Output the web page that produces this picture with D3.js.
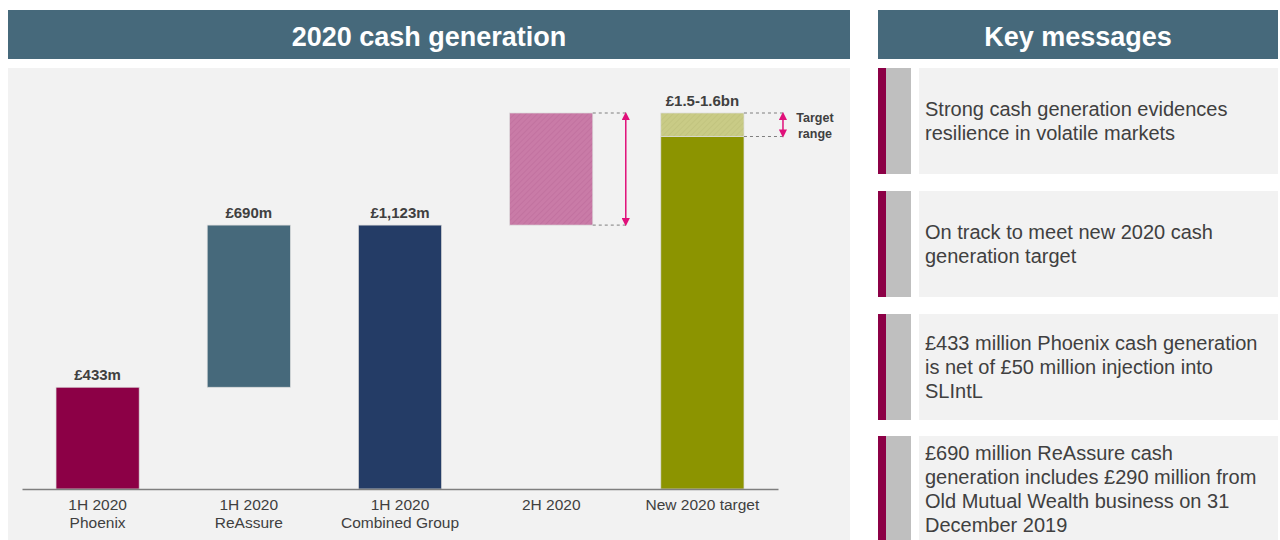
<!DOCTYPE html>
<html>
<head>
<meta charset="utf-8">
<script src="https://cdn.jsdelivr.net/npm/d3@7"></script>
<style>
  body { margin: 0; background: #fff; font-family: "Liberation Sans", Arial, sans-serif; }
</style>
</head>
<body>
<svg id="chart"></svg>
<script>
// chart data
const categories = [["1H 2020", "Phoenix"], ["1H 2020", "ReAssure"], ["1H 2020", "Combined Group"], ["2H 2020"], ["New 2020 target"]];
const barStart = [0, 433, 0, 1123, 0];
const barEnd = [433, 1123, 1123, 1600, 1500];
const valueLabels = ["£433m", "£690m", "£1,123m", "", "£1.5-1.6bn"];
const targetRange = [1500, 1600];
const messages = [
    ["Strong cash generation evidences", "resilience in volatile markets"],
    ["On track to meet new 2020 cash", "generation target"],
    ["£433 million Phoenix cash generation", "is net of £50 million injection into", "SLIntL"],
    ["£690 million ReAssure cash", "generation includes £290 million from", "Old Mutual Wealth business on 31", "December 2019"]
];

const W = 1280, H = 540;
const svg = d3.select("#chart").attr("width", W).attr("height", H);

const headFill = "#46697b";
const textCol = "#404040";
const magenta = "#e0107a";

// defs: hatch patterns
const defs = svg.append("defs");
function hatch(id, base, line) {
    const p = defs.append("pattern")
        .attr("id", id)
        .attr("patternUnits", "userSpaceOnUse")
        .attr("width", 4).attr("height", 4)
        .attr("patternTransform", "rotate(45)");
    p.append("rect").attr("width", 4).attr("height", 4).attr("fill", base);
    p.append("line").attr("x1", 0).attr("y1", 0).attr("x2", 0).attr("y2", 4)
        .attr("stroke", line).attr("stroke-width", 1.2);
}
hatch("pinkHatch", "#c97ba7", "#bd6c9b");
hatch("oliveHatch", "#c9cb86", "#bec07a");
defs.append("marker")
    .attr("id", "arrow")
    .attr("viewBox", "0 0 10 10")
    .attr("refX", 5).attr("refY", 5)
    .attr("markerWidth", 5.5).attr("markerHeight", 5.5)
    .attr("orient", "auto-start-reverse")
    .append("path").attr("d", "M0,0L10,5L0,10z").attr("fill", magenta);

// headers
const headers = [
    { x: 8, w: 842, text: "2020 cash generation" },
    { x: 878, w: 400, text: "Key messages" }
];
headers.forEach(h => {
    svg.append("rect").attr("x", h.x).attr("y", 10).attr("width", h.w).attr("height", 49).attr("fill", headFill);
    svg.append("text").attr("x", h.x + h.w / 2).attr("y", 37)
        .attr("text-anchor", "middle").attr("dominant-baseline", "central")
        .attr("fill", "#fff").attr("font-weight", "bold").attr("font-size", 27)
        .text(h.text);
});

// chart panel
svg.append("rect").attr("x", 8).attr("y", 68).attr("width", 842).attr("height", H - 68).attr("fill", "#f2f2f2");

const x = d3.scaleBand()
    .domain(d3.range(categories.length))
    .range([22, 778])
    .paddingInner(0.45)
    .paddingOuter(0.225);

const y = d3.scaleLinear()
    .domain([0, 1600])
    .range([489, 113]);

const fills = ["#8c0046", "#46697b", "#243c66", "url(#pinkHatch)", "#8c9400"];

const g = svg.append("g");

const bars = d3.range(categories.length);
g.selectAll("rect.bar")
    .data(bars)
    .join("rect")
    .attr("class", "bar")
    .attr("x", i => x(i))
    .attr("width", x.bandwidth())
    .attr("y", i => y(barEnd[i]))
    .attr("height", i => y(barStart[i]) - y(barEnd[i]))
    .attr("fill", i => fills[i])
    .attr("stroke", "#dcdcdc")
    .attr("stroke-width", 0.7);

// target range segment on last bar
const last = categories.length - 1;
g.append("rect")
    .attr("x", x(last))
    .attr("width", x.bandwidth())
    .attr("y", y(targetRange[1]))
    .attr("height", y(targetRange[0]) - y(targetRange[1]))
    .attr("fill", "url(#oliveHatch)")
    .attr("stroke", "#dcdcdc")
    .attr("stroke-width", 0.7);

// value labels (above the top of each bar, incl. target range)
const topOf = i => i === last ? Math.max(barEnd[i], targetRange[1]) : barEnd[i];
g.selectAll("text.val")
    .data(bars.filter(i => valueLabels[i]))
    .join("text")
    .attr("class", "val")
    .attr("x", i => x(i) + x.bandwidth() / 2)
    .attr("y", i => y(topOf(i)) - 13)
    .attr("text-anchor", "middle")
    .attr("dominant-baseline", "central")
    .attr("font-size", 15)
    .attr("font-weight", "bold")
    .attr("fill", textCol)
    .text(i => valueLabels[i]);

// dashed guide lines + arrows
function bracket(i, lo, hi, len) {
    const x0 = x(i) + x.bandwidth();
    [lo, hi].forEach(v => {
        g.append("line")
            .attr("x1", x0).attr("x2", x0 + len)
            .attr("y1", y(v)).attr("y2", y(v))
            .attr("stroke", "#7f7f7f").attr("stroke-width", 1)
            .attr("stroke-dasharray", "3,3");
    });
    g.append("line")
        .attr("x1", x0 + len - 1).attr("x2", x0 + len - 1)
        .attr("y1", y(hi) + 3).attr("y2", y(lo) - 3)
        .attr("stroke", magenta).attr("stroke-width", 1.5)
        .attr("marker-start", "url(#arrow)")
        .attr("marker-end", "url(#arrow)");
}
bracket(3, barStart[3], barEnd[3], 34);
bracket(last, targetRange[0], targetRange[1], 40);

g.append("text")
    .attr("text-anchor", "middle")
    .attr("font-size", 12.5).attr("font-weight", "bold").attr("fill", textCol)
    .selectAll("tspan")
    .data(["Target", "range"])
    .join("tspan")
    .attr("x", x(last) + x.bandwidth() + 71)
    .attr("y", (d, k) => y(targetRange[1]) + 9 + k * 16)
    .text(d => d);

// x axis
const axis = svg.append("g")
    .attr("transform", `translate(0,${y(0)})`)
    .call(d3.axisBottom(x).tickSize(0).tickSizeOuter(0).tickFormat(""));
axis.select(".domain").attr("stroke", "#7f7f7f").attr("stroke-width", 1.5);

axis.selectAll(".tick text").remove();
axis.selectAll(".tick")
    .append("text")
    .attr("fill", textCol)
    .attr("font-size", 15.5)
    .attr("font-family", "Liberation Sans, Arial, sans-serif")
    .attr("text-anchor", "middle")
    .selectAll("tspan")
    .data(i => categories[i])
    .join("tspan")
    .attr("x", 0)
    .attr("y", (d, k) => 21 + k * 18)
    .text(d => d);

// key messages
const cardTop = [68, 191, 314, 436];
const cardH = 106;
const lineH = 24;
messages.forEach((lines, j) => {
    const top = cardTop[j];
    const c = svg.append("g");
    c.append("rect").attr("x", 878).attr("y", top).attr("width", 8).attr("height", cardH).attr("fill", "#8c0046");
    c.append("rect").attr("x", 886).attr("y", top).attr("width", 25).attr("height", cardH).attr("fill", "#bfbfbf");
    c.append("rect").attr("x", 919).attr("y", top).attr("width", 359).attr("height", cardH).attr("fill", "#f2f2f2");
    const cy = top + cardH / 2 - (lines.length - 1) * lineH / 2;
    c.append("text")
        .attr("font-size", 20).attr("fill", textCol)
        .selectAll("tspan")
        .data(lines)
        .join("tspan")
        .attr("x", 925)
        .attr("y", (d, k) => cy + k * lineH)
        .attr("dominant-baseline", "central")
        .text(d => d);
});
</script>
</body>
</html>
